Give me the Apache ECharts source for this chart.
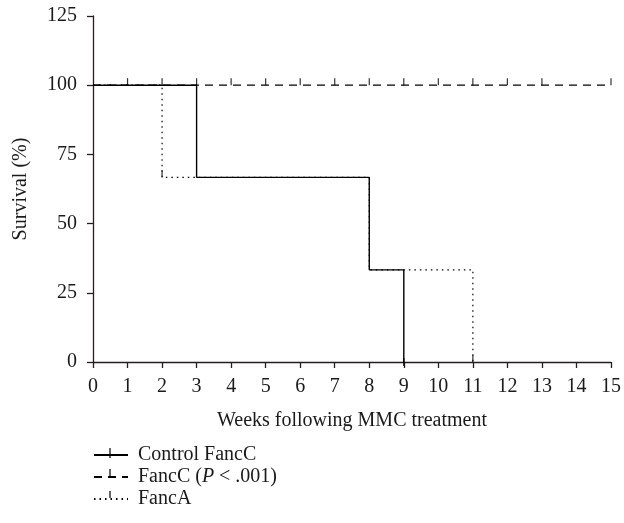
<!DOCTYPE html>
<html>
<head>
<meta charset="utf-8">
<script src="https://cdn.jsdelivr.net/npm/echarts@6/dist/echarts.min.js"></script>
<style>html,body{margin:0;padding:0;background:#fff;}#c{width:624px;height:523px;}</style>
</head>
<body>
<div id="c"></div>
<script>
// Step-curve vertices [week, survival %]
var controlFancC = [[0, 100], [3, 66.7], [8, 33.3], [9, 0]];
var fancC = [[0, 100], [15, 100]];
var fancA = [[0, 100], [2, 66.7], [8, 33.3], [11, 0]];
// Censor marks
var fancCCensor = [[1,100],[2,100],[3,100],[4,100],[5,100],[6,100],[7,100],[8,100],[9,100],[10,100],[11,100],[12,100],[13,100],[15,100]];
var fancACensor = [[2, 66.7], [11, 0]];
var controlCensor = [[9, 0]];
var seriesNames = ['Control FancC', 'FancC (P < .001)', 'FancA'];
var xTicks = [0,1,2,3,4,5,6,7,8,9,10,11,12,13,14,15];
var yTicks = [0, 25, 50, 75, 100, 125];

var FONT = 'Liberation Serif';
var TXT = '#1a1a1a';
var chart = echarts.init(document.getElementById('c'));

// small censor-tick decorations inside the legend icons
function legendTick(y1, y2) {
  return { type: 'line', shape: { x1: 110, y1: y1, x2: 110, y2: y2 },
    style: { stroke: '#000', lineWidth: 1.2 }, silent: true, z: 100 };
}

chart.setOption({
  animation: false,
  textStyle: { fontFamily: FONT, color: TXT },
  grid: { left: 93, right: 12, top: 16, bottom: 161 },
  xAxis: {
    type: 'value', min: 0, max: 15, interval: 1,
    name: 'Weeks following MMC treatment', nameLocation: 'middle', nameGap: 49,
    nameTextStyle: { fontFamily: FONT, fontSize: 20, color: TXT },
    axisLine: { lineStyle: { color: '#231f20', width: 1.3 } },
    axisTick: { length: 6, lineStyle: { color: '#231f20', width: 1.3 } },
    axisLabel: { fontFamily: FONT, fontSize: 20, color: TXT, margin: 15 },
    splitLine: { show: false }
  },
  yAxis: {
    type: 'value', min: 0, max: 125, interval: 25,
    name: 'Survival (%)', nameLocation: 'middle', nameGap: 62,
    nameTextStyle: { fontFamily: FONT, fontSize: 20, color: TXT },
    axisLine: { show: true, lineStyle: { color: '#231f20', width: 1.3 } },
    axisTick: { show: true, length: 6, lineStyle: { color: '#231f20', width: 1.3 } },
    axisLabel: { fontFamily: FONT, fontSize: 20, color: TXT, margin: 16 },
    splitLine: { show: false }
  },
  legend: {
    orient: 'vertical', left: 88, top: 440, itemGap: 2,
    itemWidth: 34, itemHeight: 14,
    data: seriesNames,
    itemStyle: { opacity: 0 },
    formatter: function (n) { return n === seriesNames[1] ? 'FancC ({i|P} < .001)' : n; },
    textStyle: { fontFamily: FONT, fontSize: 20, color: TXT, padding: [0, 0, 0, 5],
      rich: { i: { fontFamily: FONT, fontSize: 20, fontStyle: 'italic', color: TXT } } }
  },
  graphic: [legendTick(448, 458), legendTick(469, 476), legendTick(491, 498)],
  series: [
    { name: seriesNames[0], type: 'line', step: 'end', data: controlFancC,
      symbol: 'none', itemStyle: { color: '#000' },
      lineStyle: { color: '#000', width: 1.4 }, z: 4 },
    { name: seriesNames[1], type: 'line', step: 'end', data: fancC,
      symbol: 'none', itemStyle: { color: '#000' },
      lineStyle: { color: '#000', width: 1.2, type: [8, 6] }, z: 2 },
    { name: seriesNames[2], type: 'line', step: 'end', data: fancA,
      symbol: 'none', itemStyle: { color: '#000' },
      lineStyle: { color: '#000', width: 1.2, type: [1.5, 4] }, z: 3 },
    { type: 'scatter', data: fancCCensor, symbol: 'rect', symbolSize: [1.2, 7],
      symbolOffset: [0, -3.5], itemStyle: { color: '#000' }, silent: true },
    { type: 'scatter', data: fancACensor, symbol: 'rect', symbolSize: [1.2, 7],
      symbolOffset: [0, -3.5], itemStyle: { color: '#000' }, silent: true },
    { type: 'scatter', data: controlCensor, symbol: 'rect', symbolSize: [1.5, 8],
      itemStyle: { color: '#000' }, silent: true }
  ]
});
</script>
</body>
</html>
